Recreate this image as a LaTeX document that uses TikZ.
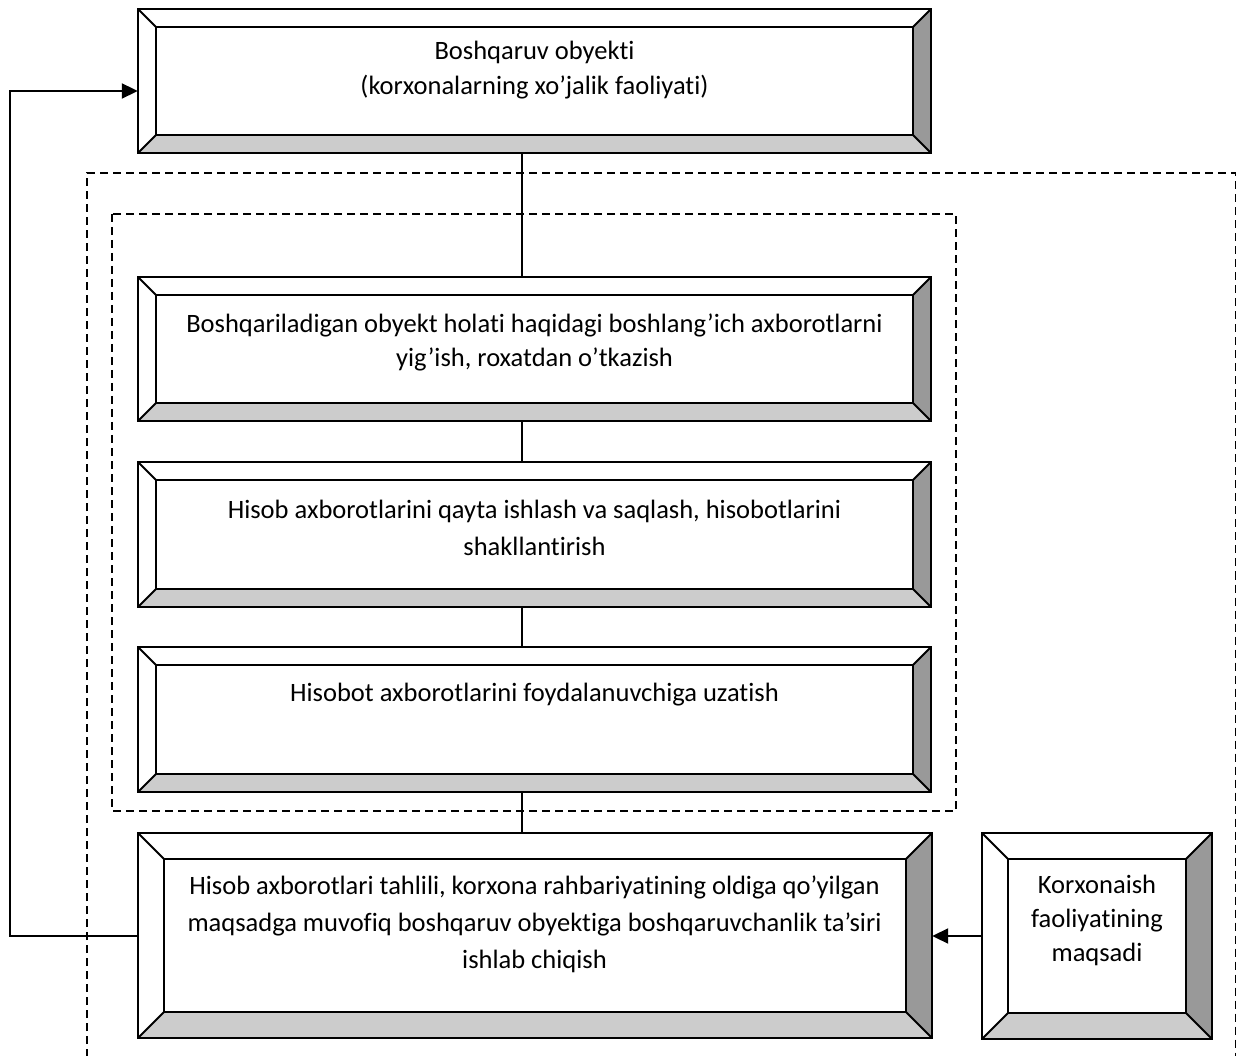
\documentclass[tikz,border=0pt]{standalone}
\usepackage{fontspec}
\setmainfont{Carlito}[Ligatures=NoCommon]
\usetikzlibrary{arrows.meta}
\definecolor{rightface}{HTML}{999999}
\definecolor{bottomface}{HTML}{CCCCCC}
\tikzset{
  boxline/.style={draw=black, line width=1.8pt, line join=miter},
  conn/.style={draw=black, line width=2pt},
  dashbox/.style={draw=black, line width=1.6pt, dash pattern=on 8pt off 5pt},
  arr/.style={-{Triangle[length=16pt,width=15pt]}},
  txt/.style={inner sep=0pt, align=center, anchor=north, font=\fontsize{26.5}{35}\selectfont},
  area/.style={inner sep=0pt, draw=none}
}
% #1 name, #2 x1, #3 y1, #4 x2, #5 y2, #6 bevel
\newcommand\bevbox[6]{%
  \fill[white] (#2,#3) rectangle (#4,#5);
  \fill[rightface] (#4,#3) -- (#4,#5) -- ({#4-#6},{#5-#6}) -- ({#4-#6},{#3+#6}) -- cycle;
  \fill[bottomface] (#2,#5) -- (#4,#5) -- ({#4-#6},{#5-#6}) -- ({#2+#6},{#5-#6}) -- cycle;
  \draw[boxline] ({#2+#6},{#3+#6}) rectangle ({#4-#6},{#5-#6});
  \draw[boxline] (#2,#3) -- ({#2+#6},{#3+#6});
  \draw[boxline] (#4,#3) -- ({#4-#6},{#3+#6});
  \draw[boxline] (#2,#5) -- ({#2+#6},{#5-#6});
  \draw[boxline] (#4,#5) -- ({#4-#6},{#5-#6});
  \draw[boxline] (#2,#3) rectangle (#4,#5);
  \node[area, minimum width={(#4-#2)*1pt}, minimum height={(#5-#3)*1pt}] (#1) at ({(#2+#4)/2},{(#3+#5)/2}) {};
}
\begin{document}
\begin{tikzpicture}[x=1pt,y=-1pt]
\useasboundingbox (0,0) rectangle (1237,1056);
\clip (0,0) rectangle (1237,1056);
\fill[white] (0,0) rectangle (1237,1056);

% dashed frames
\draw[dashbox] (87,1070) -- (87,173) -- (1235.5,173) -- (1235.5,1070);
\draw[dashbox] (112,214) rectangle (956,811);

% boxes
\bevbox{obj}{138}{9}{931}{153}{18}
\bevbox{collect}{138}{277}{931}{421}{18}
\bevbox{process}{138}{462}{931}{607}{18}
\bevbox{transfer}{138}{647}{931}{792}{18}
\bevbox{analysis}{138}{833}{932}{1038}{26}
\bevbox{goal}{982}{833}{1212}{1039}{26}

% texts
\node[txt] (tobj) at (534.5,41) {Boshqaruv obyekti\\(korxonalarning xo’jalik faoliyati)};
\node[txt, font=\fontsize{26.5}{34}\selectfont] (tcollect) at (534.5,314) {Boshqariladigan obyekt holati haqidagi boshlang’ich axborotlarni\\yig’ish, roxatdan o’tkazish};
\node[txt, font=\fontsize{26.5}{37}\selectfont] (tprocess) at (534.5,500) {Hisob axborotlarini qayta ishlash va saqlash, hisobotlarini\\shakllantirish};
\node[txt] (ttransfer) at (534.5,683) {Hisobot axborotlarini foydalanuvchiga uzatish};
\node[txt, font=\fontsize{26.5}{37}\selectfont] (tanalysis) at (534.5,876) {Hisob axborotlari tahlili, korxona rahbariyatining oldiga qo’yilgan\\maqsadga muvofiq boshqaruv obyektiga boshqaruvchanlik ta’siri\\ishlab chiqish};
\node[txt, font=\fontsize{26.5}{34}\selectfont] (tgoal) at (1097,875) {Korxonaish\\faoliyatining\\maqsadi};

% spine connectors
\coordinate (spine) at (522,0);
\draw[conn] (obj.south -| spine) -- (collect.north -| spine);
\draw[conn] (collect.south -| spine) -- (process.north -| spine);
\draw[conn] (process.south -| spine) -- (transfer.north -| spine);
\draw[conn] (transfer.south -| spine) -- (analysis.north -| spine);

% feedback loop
\coordinate (fbtop) at (10,91);
\draw[conn, arr] (analysis.west) -| (fbtop) -- (obj.west |- fbtop);

% goal arrow
\draw[conn, arr] (goal.west) -- (analysis.east |- goal.west);
\end{tikzpicture}
\end{document}
